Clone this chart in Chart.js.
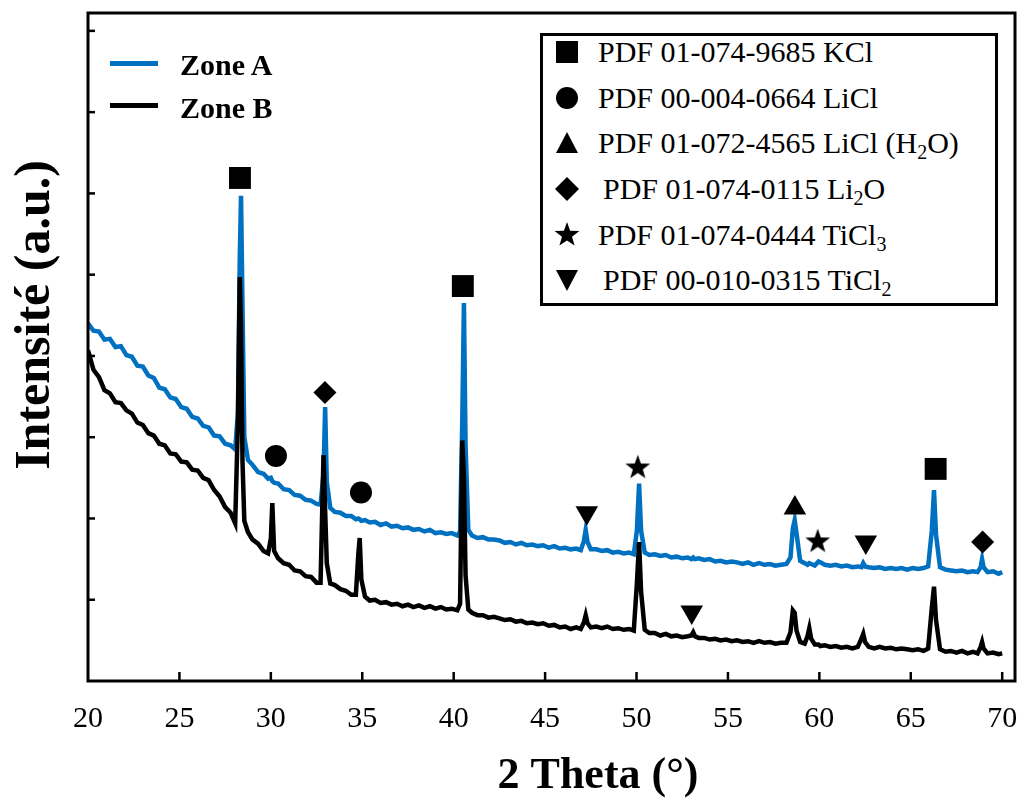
<!DOCTYPE html>
<html>
<head>
<meta charset="utf-8">
<script src="https://cdn.jsdelivr.net/npm/chart.js@4.4.1/dist/chart.umd.min.js"></script>
<style>
  html, body { margin: 0; padding: 0; background: #fff; }
  #wrap { position: relative; width: 1017px; height: 800px; overflow: hidden; }
  #c { display: block; }
  .abs { position: absolute; }
  .zt { font-family: "Liberation Serif", "Times New Roman", Times, "DejaVu Serif", serif; font-weight: bold; font-size: 30px; line-height: 30px; color: #000; white-space: nowrap; }
  .pt { font-family: "Liberation Serif", "Times New Roman", Times, "DejaVu Serif", serif; font-weight: normal; font-size: 30px; line-height: 30px; color: #000; white-space: nowrap; }
  .pt sub { font-size: 20px; line-height: 0; vertical-align: -6px; }
  #pdfbox { left: 540px; top: 33px; width: 458px; height: 273px; border: 3px solid #000; box-sizing: border-box; background: #fff; }
</style>
</head>
<body>
<div id="wrap">
  <canvas id="c" width="1017" height="800"></canvas>

  <!-- Zone legend -->
  <div class="abs" style="left:110px; top:61px; width:48px; height:5px; background:#0070C0;"></div>
  <div class="abs zt" style="left:180px; top:50px;">Zone A</div>
  <div class="abs" style="left:110px; top:103px; width:48px; height:5px; background:#000;"></div>
  <div class="abs zt" style="left:180px; top:93px;">Zone B</div>

  <!-- PDF legend -->
  <div id="pdfbox" class="abs"></div>
  <svg class="abs" style="left:556px; top:41px;" width="22" height="22"><rect x="0" y="0" width="22" height="22" fill="#000"/></svg>
  <div class="abs pt" style="left:598px; top:37px;">PDF 01-074-9685 KCl</div>

  <svg class="abs" style="left:556px; top:87px;" width="22" height="22"><circle cx="11" cy="11" r="11" fill="#000"/></svg>
  <div class="abs pt" style="left:598px; top:83px;">PDF 00-004-0664 LiCl</div>

  <svg class="abs" style="left:556px; top:132px;" width="22" height="21"><polygon points="11,0 22,21 0,21" fill="#000"/></svg>
  <div class="abs pt" style="left:598px; top:128px;">PDF 01-072-4565 LiCl (H<sub>2</sub>O)</div>

  <svg class="abs" style="left:555px; top:177px;" width="24" height="24"><polygon points="12,0 24,12 12,24 0,12" fill="#000"/></svg>
  <div class="abs pt" style="left:603px; top:174px;">PDF 01-074-0115 Li<sub>2</sub>O</div>

  <svg class="abs" style="left:554px; top:222px;" width="26" height="26"><polygon points="13,0 16.1,8.8 25.4,9 18,14.7 20.6,23.6 13,18.4 5.4,23.6 8,14.7 0.6,9 9.9,8.8" fill="#000"/></svg>
  <div class="abs pt" style="left:598px; top:220px;">PDF 01-074-0444 TiCl<sub>3</sub></div>

  <svg class="abs" style="left:556px; top:270px;" width="22" height="21"><polygon points="0,0 22,0 11,21" fill="#000"/></svg>
  <div class="abs pt" style="left:603px; top:265px;">PDF 00-010-0315 TiCl<sub>2</sub></div>
</div>

<script>
// ---------- data ----------
const twoTheta = [
  20.0, 20.3, 20.6, 20.9, 21.2, 21.5, 21.8, 22.1, 22.4, 22.7,
  23.0, 23.3, 23.6, 23.9, 24.2, 24.5, 24.8, 25.1, 25.4, 25.7,
  26.0, 26.3, 26.6, 26.9, 27.2, 27.5, 27.8, 28.05, 28.2, 28.3,
  28.37, 28.45, 28.55, 28.75, 29.0, 29.3, 29.6, 29.85, 30.0, 30.08,
  30.18, 30.4, 30.7, 31.0, 31.3, 31.6, 31.9, 32.2, 32.5, 32.72,
  32.88, 32.97, 33.06, 33.25, 33.5, 33.8, 34.1, 34.4, 34.65, 34.78,
  34.86, 34.95, 35.15, 35.4, 35.7, 36.0, 36.3, 36.6, 36.9, 37.2,
  37.5, 37.8, 38.1, 38.4, 38.7, 39.0, 39.3, 39.6, 39.9, 40.2,
  40.35, 40.47, 40.56, 40.65, 40.8, 41.0, 41.3, 41.6, 41.9, 42.2,
  42.5, 42.8, 43.1, 43.4, 43.7, 44.0, 44.3, 44.6, 44.9, 45.2,
  45.5, 45.8, 46.1, 46.4, 46.7, 46.95, 47.12, 47.22, 47.32, 47.5,
  47.8, 48.1, 48.4, 48.7, 49.0, 49.3, 49.6, 49.85, 50.02, 50.14,
  50.25, 50.45, 50.7, 51.0, 51.3, 51.6, 51.9, 52.2, 52.5, 52.8,
  53.0, 53.1, 53.2, 53.4, 53.7, 54.0, 54.3, 54.6, 54.9, 55.2,
  55.5, 55.8, 56.1, 56.4, 56.7, 57.0, 57.3, 57.6, 57.9, 58.2,
  58.42, 58.55, 58.65, 58.75, 58.95, 59.2, 59.35, 59.45, 59.55, 59.75,
  59.95, 60.05, 60.3, 60.6, 60.9, 61.2, 61.5, 61.8, 62.1, 62.3,
  62.4, 62.5, 62.7, 63.0, 63.3, 63.6, 63.9, 64.2, 64.5, 64.8,
  65.1, 65.4, 65.7, 65.95, 66.15, 66.27, 66.38, 66.6, 66.9, 67.2,
  67.5, 67.8, 68.1, 68.4, 68.65, 68.82, 68.9, 68.98, 69.2, 69.5,
  69.8, 70.0
];

const zoneA = [
  4.40, 4.31, 4.30, 4.20, 4.21, 4.11, 4.12, 4.01, 3.99, 3.88,
  3.87, 3.76, 3.73, 3.61, 3.59, 3.49, 3.47, 3.37, 3.35, 3.25,
  3.23, 3.14, 3.12, 3.02, 3.01, 2.92, 2.90, 2.85, 3.30, 5.20,
  5.97, 4.60, 3.00, 2.72, 2.66, 2.57, 2.55, 2.49, 2.50, 2.46,
  2.44, 2.43, 2.36, 2.35, 2.29, 2.28, 2.23, 2.22, 2.18, 2.17,
  2.55, 3.37, 2.45, 2.13, 2.08, 2.07, 2.03, 2.03, 1.99, 2.00,
  1.99, 1.97, 1.98, 1.95, 1.96, 1.92, 1.94, 1.90, 1.91, 1.88,
  1.89, 1.86, 1.87, 1.84, 1.86, 1.82, 1.83, 1.81, 1.82, 1.79,
  1.84, 3.20, 4.65, 2.90, 1.86, 1.79, 1.76, 1.77, 1.74, 1.74,
  1.73, 1.70, 1.71, 1.68, 1.70, 1.67, 1.68, 1.66, 1.67, 1.64,
  1.66, 1.63, 1.64, 1.62, 1.63, 1.61, 1.72, 1.86, 1.71, 1.62,
  1.62, 1.60, 1.61, 1.58, 1.59, 1.57, 1.58, 1.56, 1.85, 2.43,
  1.85, 1.58, 1.55, 1.56, 1.54, 1.55, 1.52, 1.53, 1.51, 1.52,
  1.50, 1.52, 1.50, 1.51, 1.49, 1.50, 1.47, 1.48, 1.46, 1.47,
  1.46, 1.44, 1.46, 1.43, 1.45, 1.43, 1.44, 1.42, 1.43, 1.44,
  1.52, 1.88, 1.98, 1.82, 1.48, 1.45, 1.43, 1.45, 1.44, 1.42,
  1.47, 1.46, 1.43, 1.42, 1.43, 1.41, 1.42, 1.40, 1.41, 1.40,
  1.45, 1.41, 1.40, 1.39, 1.40, 1.38, 1.39, 1.38, 1.39, 1.37,
  1.39, 1.38, 1.39, 1.41, 1.85, 2.35, 1.80, 1.40, 1.37, 1.36,
  1.35, 1.36, 1.34, 1.35, 1.34, 1.40, 1.50, 1.40, 1.34, 1.35,
  1.32, 1.34
];

const zoneB = [
  4.07, 3.83, 3.74, 3.58, 3.54, 3.43, 3.42, 3.33, 3.29, 3.18,
  3.15, 3.05, 3.02, 2.92, 2.90, 2.80, 2.79, 2.70, 2.69, 2.60,
  2.59, 2.50, 2.47, 2.35, 2.27, 2.14, 2.07, 1.94, 3.20, 4.97,
  4.30, 2.70, 1.97, 1.83, 1.74, 1.69, 1.60, 1.57, 1.75, 2.19,
  1.60, 1.51, 1.45, 1.43, 1.36, 1.35, 1.29, 1.28, 1.21, 1.21,
  2.78, 2.10, 1.45, 1.20, 1.18, 1.13, 1.11, 1.06, 1.06, 1.55,
  1.76, 1.25, 1.04, 0.99, 1.00, 0.96, 0.97, 0.94, 0.95, 0.92,
  0.94, 0.91, 0.93, 0.90, 0.92, 0.89, 0.91, 0.88, 0.89, 0.87,
  0.95, 2.96, 2.50, 1.30, 0.88, 0.84, 0.81, 0.81, 0.78, 0.79,
  0.77, 0.75, 0.76, 0.73, 0.74, 0.71, 0.72, 0.70, 0.71, 0.68,
  0.69, 0.66, 0.67, 0.64, 0.66, 0.64, 0.72, 0.81, 0.71, 0.66,
  0.67, 0.65, 0.67, 0.64, 0.65, 0.63, 0.64, 0.62, 1.20, 1.71,
  1.10, 0.63, 0.59, 0.59, 0.56, 0.58, 0.55, 0.56, 0.54, 0.55,
  0.56, 0.60, 0.55, 0.53, 0.53, 0.51, 0.52, 0.50, 0.51, 0.49,
  0.50, 0.48, 0.49, 0.47, 0.49, 0.47, 0.48, 0.46, 0.47, 0.47,
  0.60, 0.87, 0.84, 0.62, 0.48, 0.46, 0.55, 0.65, 0.52, 0.45,
  0.45, 0.43, 0.44, 0.42, 0.43, 0.41, 0.42, 0.40, 0.42, 0.52,
  0.58, 0.48, 0.42, 0.40, 0.42, 0.40, 0.41, 0.39, 0.40, 0.39,
  0.38, 0.39, 0.37, 0.40, 0.90, 1.16, 0.75, 0.39, 0.36, 0.37,
  0.35, 0.37, 0.34, 0.36, 0.34, 0.42, 0.48, 0.40, 0.34, 0.35,
  0.33, 0.34
];

// phase markers placed above the peaks: [2theta, height]
const markKCl     = [[28.31, 6.19], [40.50, 4.86], [66.36, 2.61]];
const markLiCl    = [[30.28, 2.77], [34.93, 2.32]];
const markLiClH2O = [[58.66, 2.13]];
const markLi2O    = [[32.96, 3.55], [68.93, 1.71]];
const markTiCl3   = [[50.07, 2.64], [59.91, 1.73]];
const markTiCl2   = [[47.28, 2.07], [53.02, 0.85], [62.54, 1.71]];

const xTicks = [20, 25, 30, 35, 40, 45, 50, 55, 60, 65, 70];
const yTicks = [1, 2, 3, 4, 5, 6, 7, 8];
const xTitle = '2 Theta (°)';
const yTitle = 'Intensité (a.u.)';

const SERIF = '"Liberation Serif", "Times New Roman", Times, "DejaVu Serif", serif';

// ---------- helpers ----------
const pts = (ys) => twoTheta.map((x, i) => ({ x: x, y: ys[i] }));
const mpts = (arr) => arr.map(p => ({ x: p[0], y: p[1] }));

function starImage(r) {
  const s = Math.ceil(r * 2 + 2);
  const c = document.createElement('canvas');
  c.width = s; c.height = s;
  const g = c.getContext('2d');
  g.translate(s / 2, s / 2 + r * 0.1);
  g.beginPath();
  for (let i = 0; i < 10; i++) {
    const rr = (i % 2) ? r * 0.4 : r;
    const a = -Math.PI / 2 + i * Math.PI / 5;
    g.lineTo(rr * Math.cos(a), rr * Math.sin(a));
  }
  g.closePath();
  g.fillStyle = '#000';
  g.fill();
  return c;
}

// frame, inward tick marks, tick labels and axis titles (positions come from the chart's scales)
const frameAndTitles = {
  id: 'frameAndTitles',
  afterDraw(chart) {
    const { ctx, chartArea: a, scales } = chart;
    const x = scales.x, y = scales.y;
    ctx.save();
    ctx.strokeStyle = '#000';
    ctx.lineWidth = 3;
    ctx.strokeRect(a.left, a.top, a.right - a.left, a.bottom - a.top);
    ctx.lineWidth = 2.5;
    xTicks.forEach(v => {
      const p = x.getPixelForValue(v);
      if (p <= a.left + 3) return;
      ctx.beginPath(); ctx.moveTo(p, a.bottom); ctx.lineTo(p, a.bottom - 9); ctx.stroke();
    });
    yTicks.forEach(v => {
      const p = y.getPixelForValue(v);
      ctx.beginPath(); ctx.moveTo(a.left, p); ctx.lineTo(a.left + 7, p); ctx.stroke();
    });
    ctx.fillStyle = '#000';
    ctx.textAlign = 'center';
    ctx.textBaseline = 'middle';
    ctx.font = '30px ' + SERIF;
    xTicks.forEach(v => {
      ctx.fillText(String(v), x.getPixelForValue(v), a.bottom + 38);
    });
    ctx.font = 'bold 44px ' + SERIF;
    ctx.fillText(xTitle, 598, 777);
    ctx.translate(36, 315);
    ctx.rotate(-Math.PI / 2);
    ctx.font = 'bold 50px ' + SERIF;
    ctx.fillText(yTitle, 0, 0);
    ctx.restore();
  }
};

const markerBase = { showLine: false, pointBackgroundColor: '#000', pointBorderColor: '#000', pointBorderWidth: 0, order: 0 };

new Chart(document.getElementById('c'), {
  type: 'scatter',
  data: {
    datasets: [
      { label: 'Zone B', data: pts(zoneB), showLine: true, borderColor: '#000000', borderWidth: 4.5, pointRadius: 0, tension: 0, order: 1 },
      { label: 'Zone A', data: pts(zoneA), showLine: true, borderColor: '#0070C0', borderWidth: 4.5, pointRadius: 0, tension: 0, order: 2 },
      Object.assign({ label: 'PDF 01-074-9685 KCl', data: mpts(markKCl), pointStyle: 'rect', pointRadius: 15.5 }, markerBase),
      Object.assign({ label: 'PDF 00-004-0664 LiCl', data: mpts(markLiCl), pointStyle: 'circle', pointRadius: 11 }, markerBase),
      Object.assign({ label: 'PDF 01-072-4565 LiCl (H2O)', data: mpts(markLiClH2O), pointStyle: 'triangle', pointRadius: 13 }, markerBase),
      Object.assign({ label: 'PDF 01-074-0115 Li2O', data: mpts(markLi2O), pointStyle: 'rectRot', pointRadius: 11.5 }, markerBase),
      Object.assign({ label: 'PDF 01-074-0444 TiCl3', data: mpts(markTiCl3), pointStyle: starImage(13), pointRadius: 13 }, markerBase),
      Object.assign({ label: 'PDF 00-010-0315 TiCl2', data: mpts(markTiCl2), pointStyle: 'triangle', rotation: 180, pointRadius: 13 }, markerBase)
    ]
  },
  options: {
    responsive: false,
    animation: false,
    devicePixelRatio: 1,
    events: [],
    layout: { autoPadding: false, padding: { top: 13, right: 2, left: 0, bottom: 0 } },
    plugins: { legend: { display: false }, tooltip: { enabled: false } },
    scales: {
      x: {
        type: 'linear', min: 20, max: 70.7,
        grid: { display: false },
        border: { display: false },
        afterBuildTicks: (s) => { s.ticks = xTicks.map(v => ({ value: v })); },
        afterFit: (s) => { s.height = 119; },
        ticks: { display: false }
      },
      y: {
        type: 'linear', min: 0, max: 8.22,
        grid: { display: false },
        border: { display: false },
        afterBuildTicks: (s) => { s.ticks = yTicks.map(v => ({ value: v })); },
        afterFit: (s) => { s.width = 88; },
        ticks: { display: false }
      }
    }
  },
  plugins: [frameAndTitles]
});
</script>
</body>
</html>
